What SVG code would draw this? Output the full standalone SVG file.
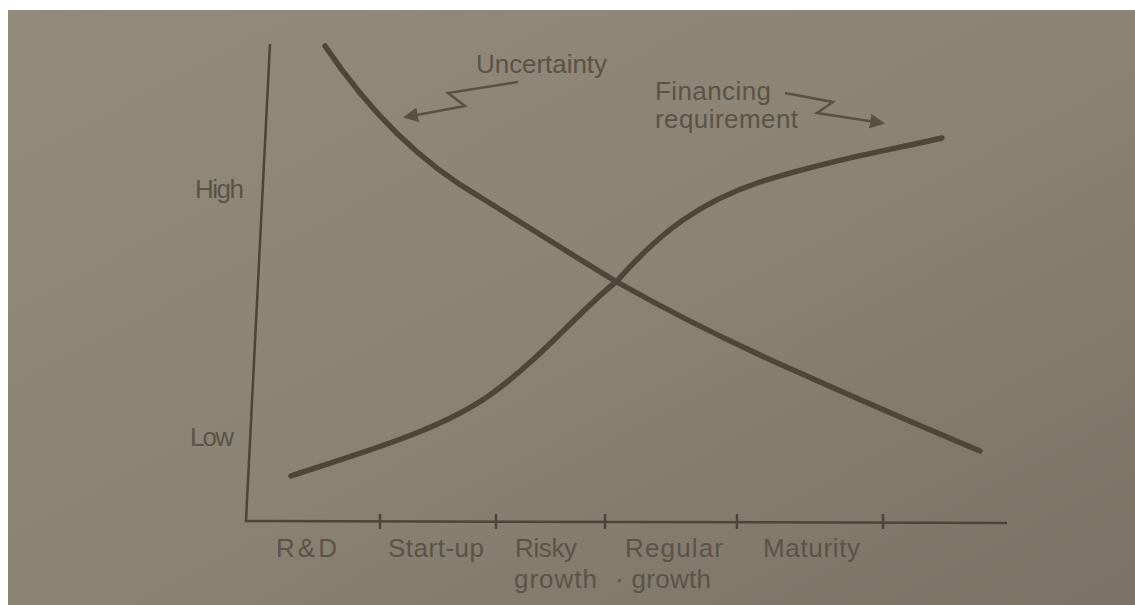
<svg xmlns="http://www.w3.org/2000/svg" width="1135" height="605" viewBox="0 0 1135 605">
<defs>
<linearGradient id="bg" x1="0" y1="0" x2="1" y2="1">
<stop offset="0" stop-color="#928a7a"/>
<stop offset="0.5" stop-color="#8b8474"/>
<stop offset="1" stop-color="#7a7365"/>
</linearGradient>
<marker id="ah" viewBox="0 0 10 10" refX="8" refY="5" markerWidth="6" markerHeight="6" orient="auto" markerUnits="strokeWidth">
<path d="M0,0 L10,5 L0,10 z" fill="#5a5144"/>
</marker>
<style>
.t{font-family:"Liberation Sans",Arial,sans-serif;font-size:26px;fill:#5b5347}
.ax{stroke:#4d4539;stroke-width:2.5;fill:none}
.cv{stroke:#4f4639;stroke-width:5.5;fill:none;stroke-linecap:round}
.ar{stroke:#5a5144;stroke-width:2.5;fill:none}
</style>
</defs>
<rect x="0" y="0" width="1135" height="605" fill="#ffffff"/>
<rect x="8" y="10" width="1127" height="595" fill="url(#bg)"/>
<g id="axes">
<path class="ax" d="M270,44 L246,521 L1007,523"/>
<path class="ax" d="M380,514 V529 M496,514 V529 M605,514 V529 M737,514 V529 M883,514 V529"/>
</g>
<g id="y-labels">
<text class="t" x="195" y="198" textLength="49">High</text>
<text class="t" x="190" y="446" textLength="44">Low</text>
</g>
<g id="x-labels">
<text class="t" x="276" y="557" textLength="61">R &amp; D</text>
<text class="t" x="388" y="557" textLength="96">Start-up</text>
<text class="t" x="515" y="557" textLength="62">Risky</text>
<text class="t" x="514" y="588" textLength="83">growth</text>
<text class="t" x="625" y="557" textLength="98">Regular</text>
<text class="t" x="615" y="588" textLength="96">· growth</text>
<text class="t" x="763" y="557" textLength="97">Maturity</text>
</g>
<g id="uncertainty">
<path class="cv" d="M325,46 C352,86 402,152 480,197 C530,228 580,260 617,282 C670,312 720,338 800,373 C860,400 930,430 980,451"/>
<text class="t" x="476" y="73" textLength="131">Uncertainty</text>
</g>
<g id="financing">
<path class="cv" d="M291,476 C370,450 440,430 490,395 C545,355 578,312 617,281 C660,232 700,202 760,182 C830,160 890,150 942,138"/>
<text class="t" x="655" y="100" textLength="116">Financing</text>
<text class="t" x="655" y="128" textLength="143">requirement</text>
</g>
<g id="connectors">
<path class="ar" marker-end="url(#ah)" d="M518,82 L448,93 L465,106 L406,117"/>
<path class="ar" marker-end="url(#ah)" d="M785,93 L833,102 L817,113 L882,123"/>
</g>
</svg>
